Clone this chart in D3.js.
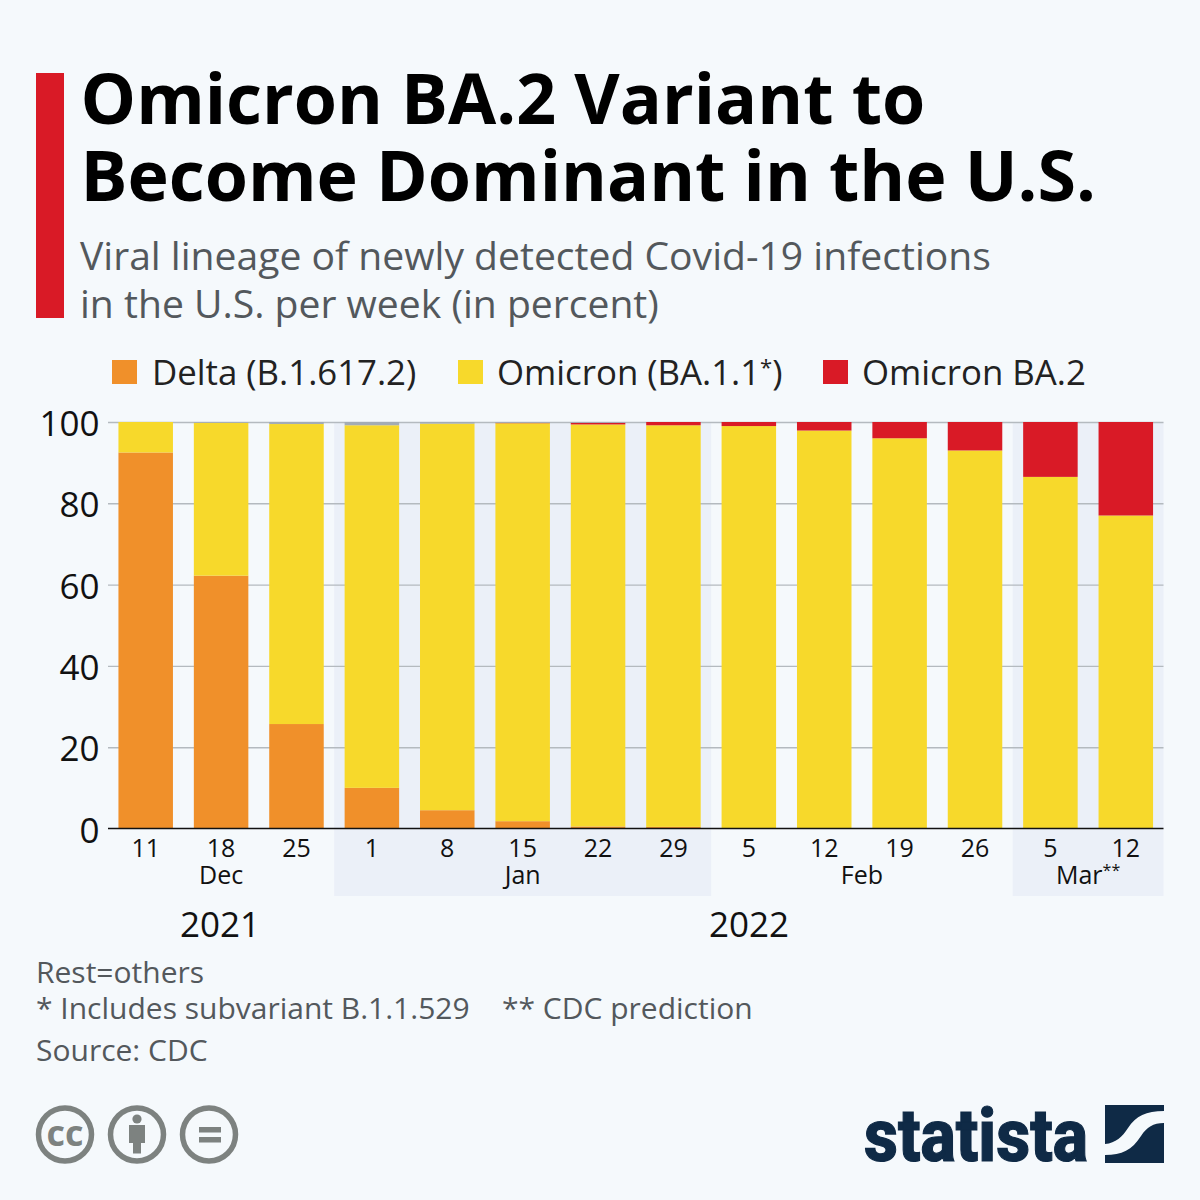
<!DOCTYPE html>
<html><head><meta charset="utf-8">
<script src="https://cdn.jsdelivr.net/npm/d3@7"></script>
<style>html,body{margin:0;padding:0;background:#f5f9fc}svg{display:block}text{font-family:"Open Sans",sans-serif}</style>
</head><body><svg id="c" width="1200" height="1200"></svg>
<script>
const weeks=["11","18","25","1","8","15","22","29","5","12","19","26","5","12"];
const ids=d3.range(weeks.length);
const delta=[92.5,62.2,25.7,10,4.5,1.8,0.5,0.4,0,0,0,0,0,0];
const omicron=[7.5,37.6,73.8,89.2,95.1,97.9,98.9,98.8,99,97.9,96,93,86.5,77];
const ba2=[0,0,0,0,0,0.1,0.4,0.8,1,2.1,4,7,13.5,23];
const rest=[0,0.2,0.5,0.8,0.4,0.2,0.2,0,0,0,0,0,0,0];
const seriesNames=["Delta (B.1.617.2)","Omicron (BA.1.1","Omicron BA.2","Rest"];
const colors=["#f0902a","#f7d92b","#d91a26","#a3acb5"];
const yTicks=[0,20,40,60,80,100];
const months=[["Dec",0,2,false],["Jan",3,7,true],["Feb",8,11,false],["Mar",12,13,true]];
const years=[["2021",220],["2022",749]];

const svg=d3.select("#c");
svg.append("rect").attr("width",1200).attr("height",1200).attr("fill","#f5f9fc");
const x=d3.scaleBand().domain(ids).range([108,1163.5]).paddingInner(0.277).paddingOuter(0.1385);
const y=d3.scaleLinear().domain([0,100]).range([828.5,422]);

svg.append("rect").attr("x",36).attr("y",73).attr("width",28).attr("height",245).attr("fill","#d91a26");
const T=(s,px,py,size,fill,anchor,weight)=>svg.append("text").attr("x",px).attr("y",py).attr("font-size",size).attr("fill",fill).attr("text-anchor",anchor||"start").attr("font-weight",weight||400).text(s);
T("Omicron BA.2 Variant to",80.5,124,69.9,"#000","start",700);
T("Become Dominant in the U.S.",80.5,201,69.9,"#000","start",700);
T("Viral lineage of newly detected Covid-19 infections",80,270,39.1,"#53585c");
T("in the U.S. per week (in percent)",80,318,39.1,"#53585c");

const step=x.step();
const bandL=i=>x(i)-(step-x.bandwidth())/2;
months.filter(m=>m[3]).forEach(m=>{
  svg.append("rect").attr("x",bandL(m[1])).attr("y",422).attr("width",bandL(m[2])+step-bandL(m[1])).attr("height",474).attr("fill","#ebf0f8");
});

const yAxis=d3.axisLeft(y).tickValues(yTicks).tickSize(0).tickPadding(8);
const gy=svg.append("g").attr("transform","translate(108,0)").call(yAxis);
gy.select(".domain").remove();
gy.selectAll("text").attr("font-size",35).attr("fill","#111").attr("font-family",'"Open Sans",sans-serif').attr("dy","0.39em").attr("x",-8.5);
gy.selectAll(".tick").filter(d=>d>0).append("line").attr("x2",1055.5).attr("stroke","#b4babf").attr("stroke-width",1.4);

const stack=d3.stack().keys([0,1,2,3]).value((i,k)=>[delta,omicron,ba2,rest][k][i])(ids);
svg.append("g").selectAll("g").data(stack).join("g").attr("fill",(d,i)=>colors[i])
 .selectAll("rect").data(d=>d).join("rect")
 .attr("x",d=>x(d.data)).attr("width",x.bandwidth())
 .attr("y",d=>y(d[1])).attr("height",d=>y(d[0])-y(d[1]));

svg.append("line").attr("x1",108).attr("x2",1163.5).attr("y1",828.5).attr("y2",828.5).attr("stroke","#111").attr("stroke-width",1.6);

ids.forEach(i=>T(weeks[i],x(i)+x.bandwidth()/2,857,25,"#111","middle"));
months.forEach(m=>{
  const t=T(m[0],(bandL(m[1])+bandL(m[2])+step)/2,884,25,"#111","middle");
  if(m[0]==="Mar") t.append("tspan").attr("font-size",16).attr("dy",-8).text("**");
});
years.forEach(d=>T(d[0],d[1],937,35,"#111","middle"));

const leg=[[112,152],[458,497],[823,862]];
seriesNames.slice(0,3).forEach((s,i)=>{
  svg.append("rect").attr("x",leg[i][0]).attr("y",360).attr("width",25).attr("height",24).attr("fill",colors[i]);
});
T(seriesNames[0],152,385,34.8,"#222");
const lt=T(seriesNames[1],497,385,34.8,"#222");
lt.append("tspan").attr("font-size",22).attr("dy",-10).text("*");
lt.append("tspan").attr("dy",10).text(")");
T(seriesNames[2],862,385,34.8,"#222");

T("Rest=others",36,983,30,"#53585c");
T("* Includes subvariant B.1.1.529",36,1019,30,"#53585c");
T("** CDC prediction",502,1019,30,"#53585c");
T("Source: CDC",36,1061,30,"#53585c");

const ic="#7d8280";
[65,137,209].forEach(cx=>svg.append("circle").attr("cx",cx).attr("cy",1134.5).attr("r",26.5).attr("fill","none").attr("stroke",ic).attr("stroke-width",5.5));
T("cc",65,1146,36,ic,"middle",700);
svg.append("circle").attr("cx",137).attr("cy",1119).attr("r",4.6).attr("fill",ic);
svg.append("path").attr("d","M129 1125H145V1143H141V1153.5H133V1143H129Z").attr("fill",ic);
svg.append("rect").attr("x",199).attr("y",1127).attr("width",22).attr("height",5.5).attr("fill",ic);
svg.append("rect").attr("x",199).attr("y",1137).attr("width",22).attr("height",5.5).attr("fill",ic);

const navy="#0f2a46";
svg.append("text").attr("x",864).attr("y",1161).attr("font-size",74).attr("font-weight",800).attr("fill",navy)
 .attr("stroke",navy).attr("stroke-width",1.2)
 .attr("textLength",224).attr("lengthAdjust","spacingAndGlyphs").style("font-family","Roboto").text("statista");
svg.append("path").attr("fill",navy).attr("d","M1105 1105H1164V1111C1146 1111 1136 1116 1128 1128C1122 1137 1116 1143 1105 1144Z");
svg.append("path").attr("fill",navy).attr("d","M1164 1123V1163H1105V1155C1122 1155 1132 1150 1141 1136C1147 1127 1153 1123 1164 1123Z");
</script></body></html>
